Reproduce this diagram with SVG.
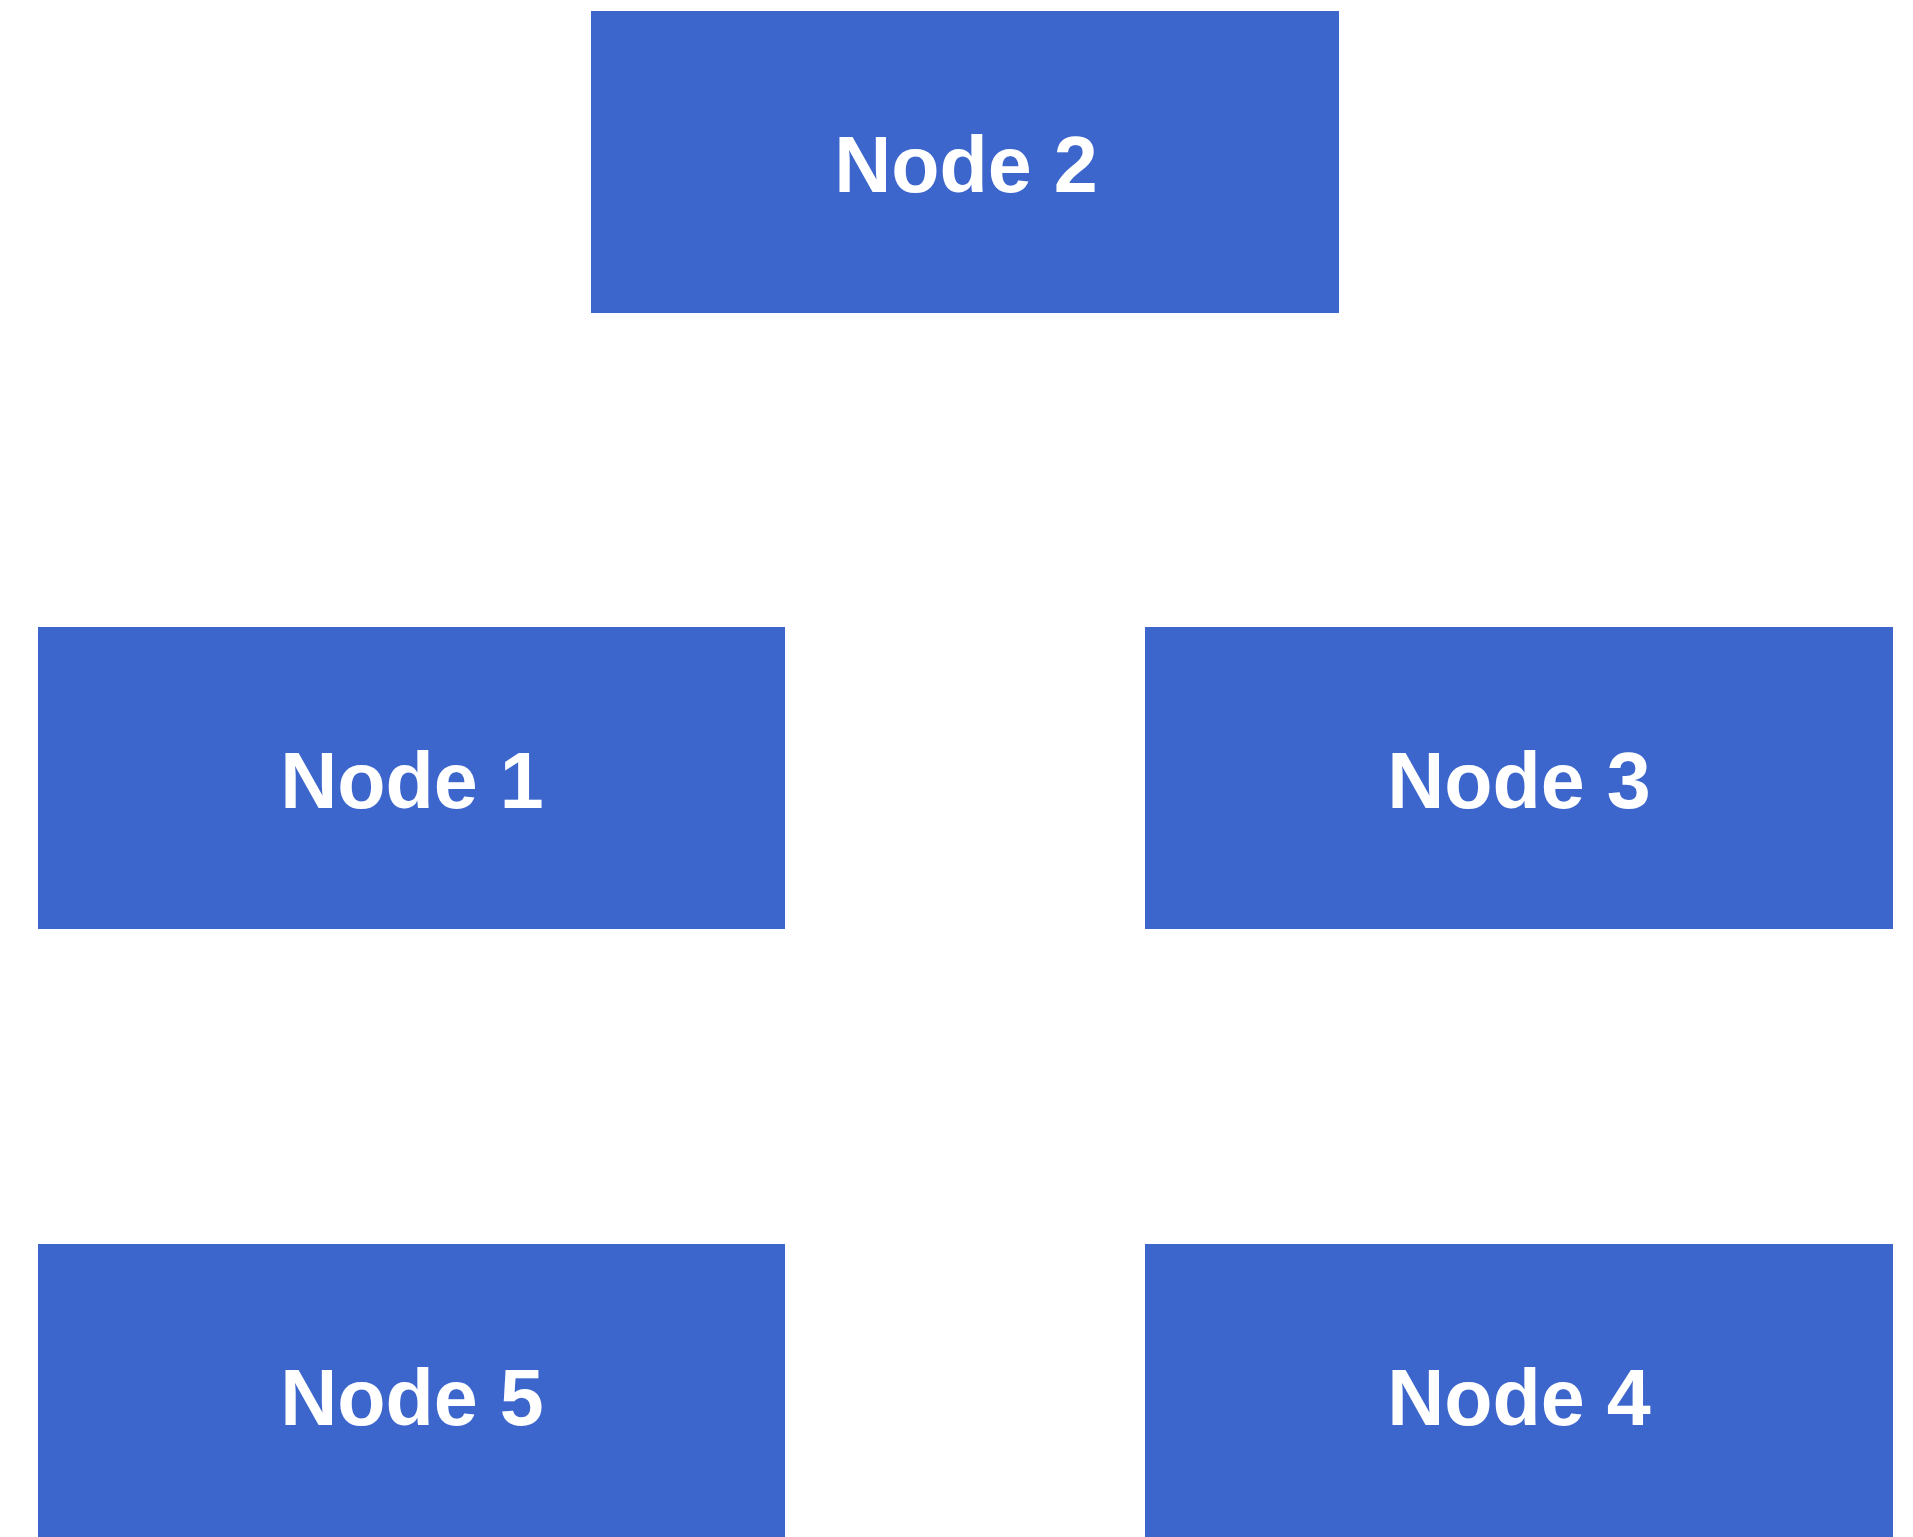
<svg xmlns="http://www.w3.org/2000/svg" width="1913" height="1537" viewBox="0 0 1913 1537">
<style>
.box{fill:#3d66cd}
.lbl{fill:#ffffff;font-family:"Liberation Sans",Arial,Helvetica,sans-serif;font-weight:bold;font-size:79px;text-anchor:middle}
</style>
<rect width="1913" height="1537" fill="#ffffff"/>
<g id="connectors"></g>
<g id="node2"><rect class="box" x="591" y="11" width="748" height="302"/><text class="lbl" x="966" y="192">Node 2</text></g>
<g id="node1"><rect class="box" x="38" y="627" width="747" height="302"/><text class="lbl" x="412" y="808">Node 1</text></g>
<g id="node3"><rect class="box" x="1145" y="627" width="748" height="302"/><text class="lbl" x="1519" y="808">Node 3</text></g>
<g id="node5"><rect class="box" x="38" y="1244" width="747" height="302"/><text class="lbl" x="412" y="1425">Node 5</text></g>
<g id="node4"><rect class="box" x="1145" y="1244" width="748" height="302"/><text class="lbl" x="1519" y="1425">Node 4</text></g>
</svg>
